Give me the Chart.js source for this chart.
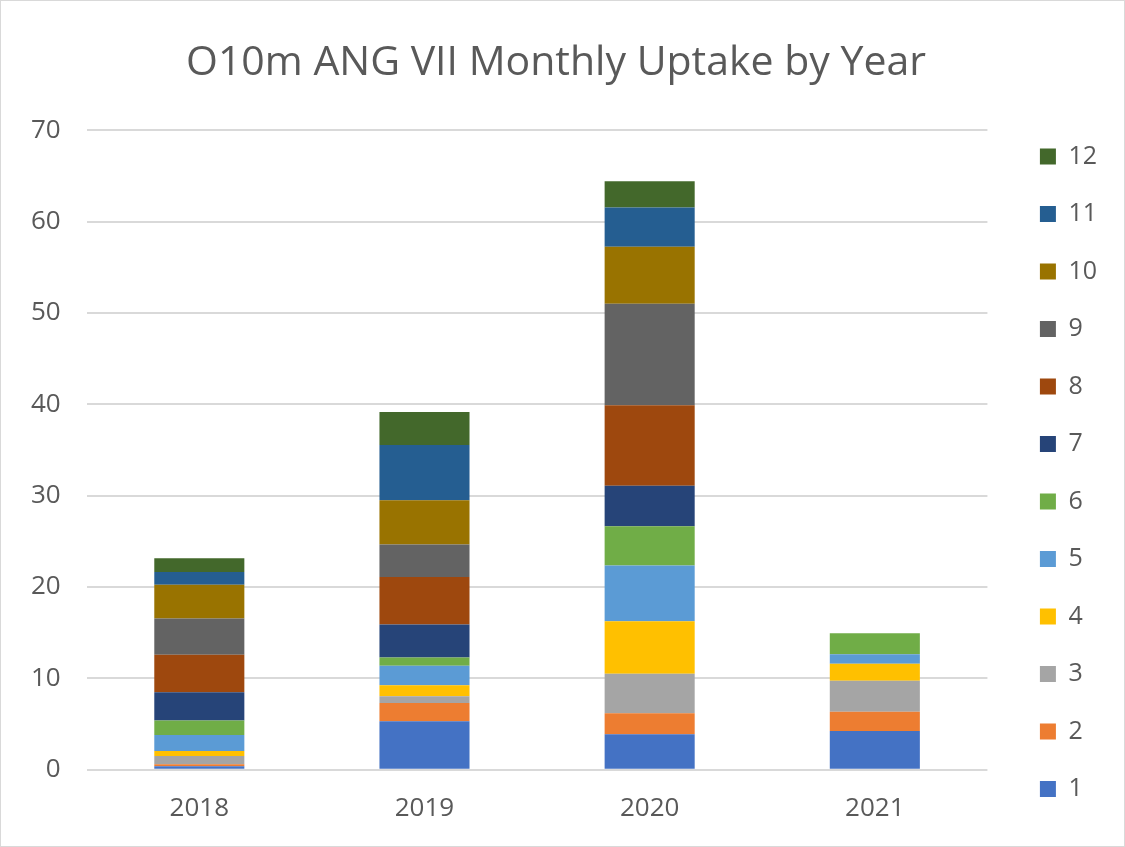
<!DOCTYPE html>
<html>
<head>
<meta charset="utf-8">
<script src="https://cdn.jsdelivr.net/npm/chart.js@4"></script>
<style>
  body { margin: 0; background: #fff; }
  #wrap { width: 1125px; height: 847px; box-sizing: border-box; border: 1px solid #d9d9d9; }
</style>
</head>
<body>
<div id="wrap"><canvas id="barCanvas"></canvas></div>
<script>
const years = ["2018", "2019", "2020", "2021"];
const months = ["1", "2", "3", "4", "5", "6", "7", "8", "9", "10", "11", "12"];

// uptake per month, one value per year
const m1 = [0.4, 5.3, 3.9, 4.25];
const m2 = [0.2, 2.0, 2.3, 2.1];
const m3 = [0.9, 0.75, 4.3, 3.4];
const m4 = [0.55, 1.2, 5.75, 1.85];
const m5 = [1.75, 2.15, 6.1, 1.05];
const m6 = [1.6, 0.9, 4.3, 2.3];
const m7 = [3.1, 3.6, 4.45, 0];
const m8 = [4.1, 5.2, 8.8, 0];
const m9 = [3.95, 3.55, 11.1, 0];
const m10 = [3.7, 4.85, 6.25, 0];
const m11 = [1.4, 6.05, 4.3, 0];
const m12 = [1.5, 3.6, 2.85, 0];

const series = [m1, m2, m3, m4, m5, m6, m7, m8, m9, m10, m11, m12];
const colors = ["#4472C4", "#ED7D31", "#A5A5A5", "#FFC000", "#5B9BD5", "#70AD47",
                "#264478", "#9E480E", "#636363", "#997300", "#255E91", "#43682B"];

const font = "'Open Sans', 'Noto Sans', sans-serif";
const textColor = "#595959";

const barChart = new Chart(document.getElementById("barCanvas"), {
    type: "bar",
    data: {
        labels: years,
        datasets: series.map((vals, i) => ({
            label: months[i],
            data: vals,
            backgroundColor: colors[i],
            borderWidth: 0,
            barPercentage: 0.4,
            categoryPercentage: 1
        }))
    },
    options: {
        responsive: true,
        maintainAspectRatio: false,
        animation: false,
        layout: {
            padding: { left: 4, right: 17, top: 10, bottom: 7 }
        },
        scales: {
            x: {
                stacked: true,
                grid: { display: false },
                border: { display: false },
                ticks: {
                    color: textColor,
                    font: { family: font, size: 26 },
                    padding: 15
                }
            },
            y: {
                stacked: true,
                min: 0,
                max: 70,
                ticks: {
                    stepSize: 10,
                    color: textColor,
                    font: { family: font, size: 26 },
                    padding: 26
                },
                grid: { color: "#D9D9D9", lineWidth: 2, drawTicks: false },
                border: { display: false }
            },
            // empty axis, only a gap between the plot and the legend
            gap: {
                position: "right",
                ticks: { display: false },
                grid: { display: false },
                border: { display: false },
                afterFit: scale => { scale.width = 20; }
            }
        },
        plugins: {
            title: {
                display: true,
                text: "O10m ANG VII Monthly Uptake by Year",
                color: textColor,
                font: { family: font, size: 41, weight: "normal" },
                padding: { top: 28, bottom: 42 }
            },
            legend: {
                position: "right",
                reverse: true,
                // blank title pushes the items down
                title: {
                    display: true,
                    text: "",
                    font: { size: 10 },
                    padding: { top: 0, bottom: 83.5 }
                },
                labels: {
                    color: textColor,
                    font: { family: font, size: 25 },
                    boxWidth: 16,
                    boxHeight: 16,
                    padding: 32.5
                }
            },
            tooltip: { enabled: false }
        }
    }
});
</script>
</body>
</html>
